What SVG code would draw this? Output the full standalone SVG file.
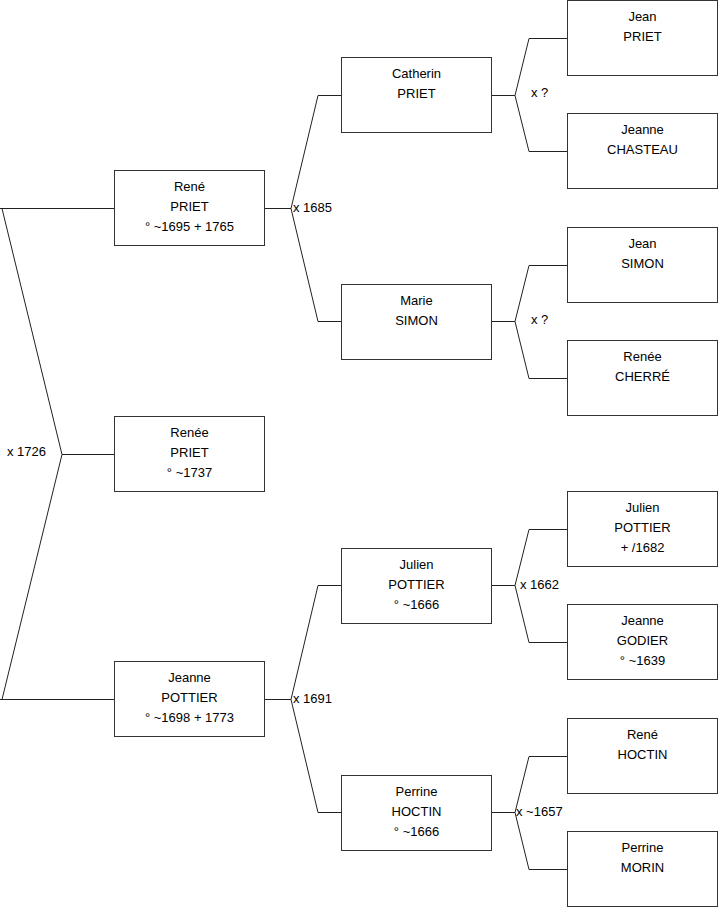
<svg xmlns="http://www.w3.org/2000/svg" width="719" height="908" viewBox="0 0 719 908">
<style>
.box{fill:#fff;stroke:#333;stroke-width:1}
.ln{fill:none;stroke:#222;stroke-width:1}
text{font-family:"Liberation Sans",Arial,sans-serif;font-size:13px;fill:#000}
.c{text-anchor:middle}
</style>
<rect width="719" height="908" fill="#fff"/>
<g id="connectors">
<path class="ln" d="M0 208.5H114.5M0 699.5H114.5M2 208.5L62 454.5L2 699.5M62 454.5H114.5"/>
<path class="ln" d="M264.5 208.5H291L318 95.5H341.5M291 208.5L318 321.5H341.5"/>
<path class="ln" d="M264.5 699.5H291L318 585.5H341.5M291 699.5L318 812.5H341.5"/>
<path class="ln" d="M491.5 95.5H515L529 38.5H567.5M515 95.5L529 151.5H567.5"/>
<path class="ln" d="M491.5 321.5H515L529 265.5H567.5M515 321.5L529 378.5H567.5"/>
<path class="ln" d="M491.5 585.5H515L529 529.5H567.5M515 585.5L529 642.5H567.5"/>
<path class="ln" d="M491.5 812.5H515L529 756.5H567.5M515 812.5L529 869.5H567.5"/>
<text x="7" y="456">x 1726</text>
<text x="293" y="212">x 1685</text>
<text x="293" y="703">x 1691</text>
<text x="531" y="97">x ?</text>
<text x="531" y="324">x ?</text>
<text x="520" y="589">x 1662</text>
<text x="516" y="816">x ~1657</text>
</g>
<g id="rene-priet"><rect class="box" x="114.5" y="170.5" width="150" height="75"/><text class="c" x="189.5" y="191">René</text><text class="c" x="189.5" y="211">PRIET</text><text class="c" x="189.5" y="231">° ~1695 + 1765</text></g>
<g id="renee-priet"><rect class="box" x="114.5" y="416.5" width="150" height="75"/><text class="c" x="189.5" y="437">Renée</text><text class="c" x="189.5" y="457">PRIET</text><text class="c" x="189.5" y="477">° ~1737</text></g>
<g id="jeanne-pottier"><rect class="box" x="114.5" y="661.5" width="150" height="75"/><text class="c" x="189.5" y="682">Jeanne</text><text class="c" x="189.5" y="702">POTTIER</text><text class="c" x="189.5" y="722">° ~1698 + 1773</text></g>
<g id="catherin-priet"><rect class="box" x="341.5" y="57.5" width="150" height="75"/><text class="c" x="416.5" y="78">Catherin</text><text class="c" x="416.5" y="98">PRIET</text></g>
<g id="marie-simon"><rect class="box" x="341.5" y="284.5" width="150" height="75"/><text class="c" x="416.5" y="305">Marie</text><text class="c" x="416.5" y="325">SIMON</text></g>
<g id="julien-pottier-1"><rect class="box" x="341.5" y="548.5" width="150" height="75"/><text class="c" x="416.5" y="569">Julien</text><text class="c" x="416.5" y="589">POTTIER</text><text class="c" x="416.5" y="609">° ~1666</text></g>
<g id="perrine-hoctin"><rect class="box" x="341.5" y="775.5" width="150" height="75"/><text class="c" x="416.5" y="796">Perrine</text><text class="c" x="416.5" y="816">HOCTIN</text><text class="c" x="416.5" y="836">° ~1666</text></g>
<g id="jean-priet"><rect class="box" x="567.5" y="0.5" width="150" height="75"/><text class="c" x="642.5" y="21">Jean</text><text class="c" x="642.5" y="41">PRIET</text></g>
<g id="jeanne-chasteau"><rect class="box" x="567.5" y="113.5" width="150" height="75"/><text class="c" x="642.5" y="134">Jeanne</text><text class="c" x="642.5" y="154">CHASTEAU</text></g>
<g id="jean-simon"><rect class="box" x="567.5" y="227.5" width="150" height="75"/><text class="c" x="642.5" y="248">Jean</text><text class="c" x="642.5" y="268">SIMON</text></g>
<g id="renee-cherre"><rect class="box" x="567.5" y="340.5" width="150" height="75"/><text class="c" x="642.5" y="361">Renée</text><text class="c" x="642.5" y="381">CHERRÉ</text></g>
<g id="julien-pottier-2"><rect class="box" x="567.5" y="491.5" width="150" height="75"/><text class="c" x="642.5" y="512">Julien</text><text class="c" x="642.5" y="532">POTTIER</text><text class="c" x="642.5" y="552">+ /1682</text></g>
<g id="jeanne-godier"><rect class="box" x="567.5" y="604.5" width="150" height="75"/><text class="c" x="642.5" y="625">Jeanne</text><text class="c" x="642.5" y="645">GODIER</text><text class="c" x="642.5" y="665">° ~1639</text></g>
<g id="rene-hoctin"><rect class="box" x="567.5" y="718.5" width="150" height="75"/><text class="c" x="642.5" y="739">René</text><text class="c" x="642.5" y="759">HOCTIN</text></g>
<g id="perrine-morin"><rect class="box" x="567.5" y="831.5" width="150" height="75"/><text class="c" x="642.5" y="852">Perrine</text><text class="c" x="642.5" y="872">MORIN</text></g>
</svg>
